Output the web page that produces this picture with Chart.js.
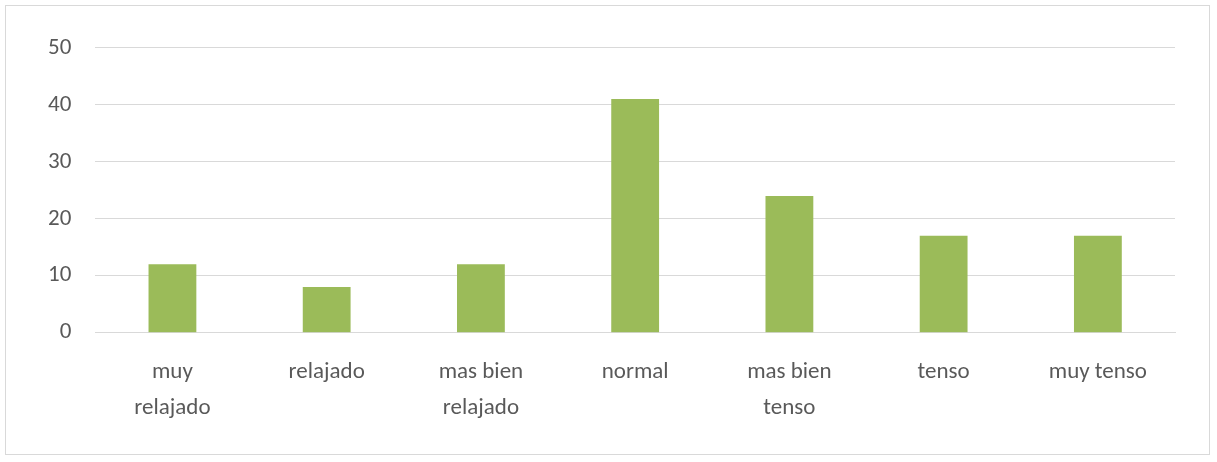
<!DOCTYPE html>
<html><head><meta charset="utf-8">
<script src="https://cdn.jsdelivr.net/npm/chart.js@4"></script>
<style>
html,body{margin:0;padding:0;background:#fff;}
#wrap{position:absolute;left:5px;top:5px;width:1205px;height:450px;border:1px solid #d9d9d9;box-sizing:border-box;}
</style></head><body>
<div id="wrap"><canvas id="c"></canvas></div>
<script>
const categories = [["muy","relajado"],"relajado",["mas bien","relajado"],"normal",["mas bien","tenso"],"tenso","muy tenso"];
const values = [12, 8, 12, 41, 24, 17, 17];
const yTicks = [0, 10, 20, 30, 40, 50];
const fnt = { family: 'Carlito, Calibri, Lato, sans-serif', size: 23, lineHeight: 1.55 };

new Chart(document.getElementById('c'), {
  type: 'bar',
  data: { labels: categories, datasets: [{ data: values, backgroundColor: '#9bbb59', barPercentage: 0.62, categoryPercentage: 0.5 }] },
  options: {
    responsive: true, maintainAspectRatio: false, animation: false,
    layout: { padding: { top: 22, right: 34, left: 18, bottom: 14 } },
    plugins: { legend: { display: false }, tooltip: { enabled: false } },
    scales: {
      y: { min: 0, max: 50, afterBuildTicks: a => { a.ticks = yTicks.map(v => ({ value: v })); },
        border: { display: false },
        grid: { color: '#d9d9d9', lineWidth: 1, drawTicks: false },
        ticks: { color: '#595959', font: fnt, padding: 24 } },
      x: { grid: { display: false }, border: { color: '#d9d9d9' },
        ticks: { color: '#595959', font: fnt, padding: 14, maxRotation: 0, autoSkip: false } }
    }
  }
});
</script></body></html>
